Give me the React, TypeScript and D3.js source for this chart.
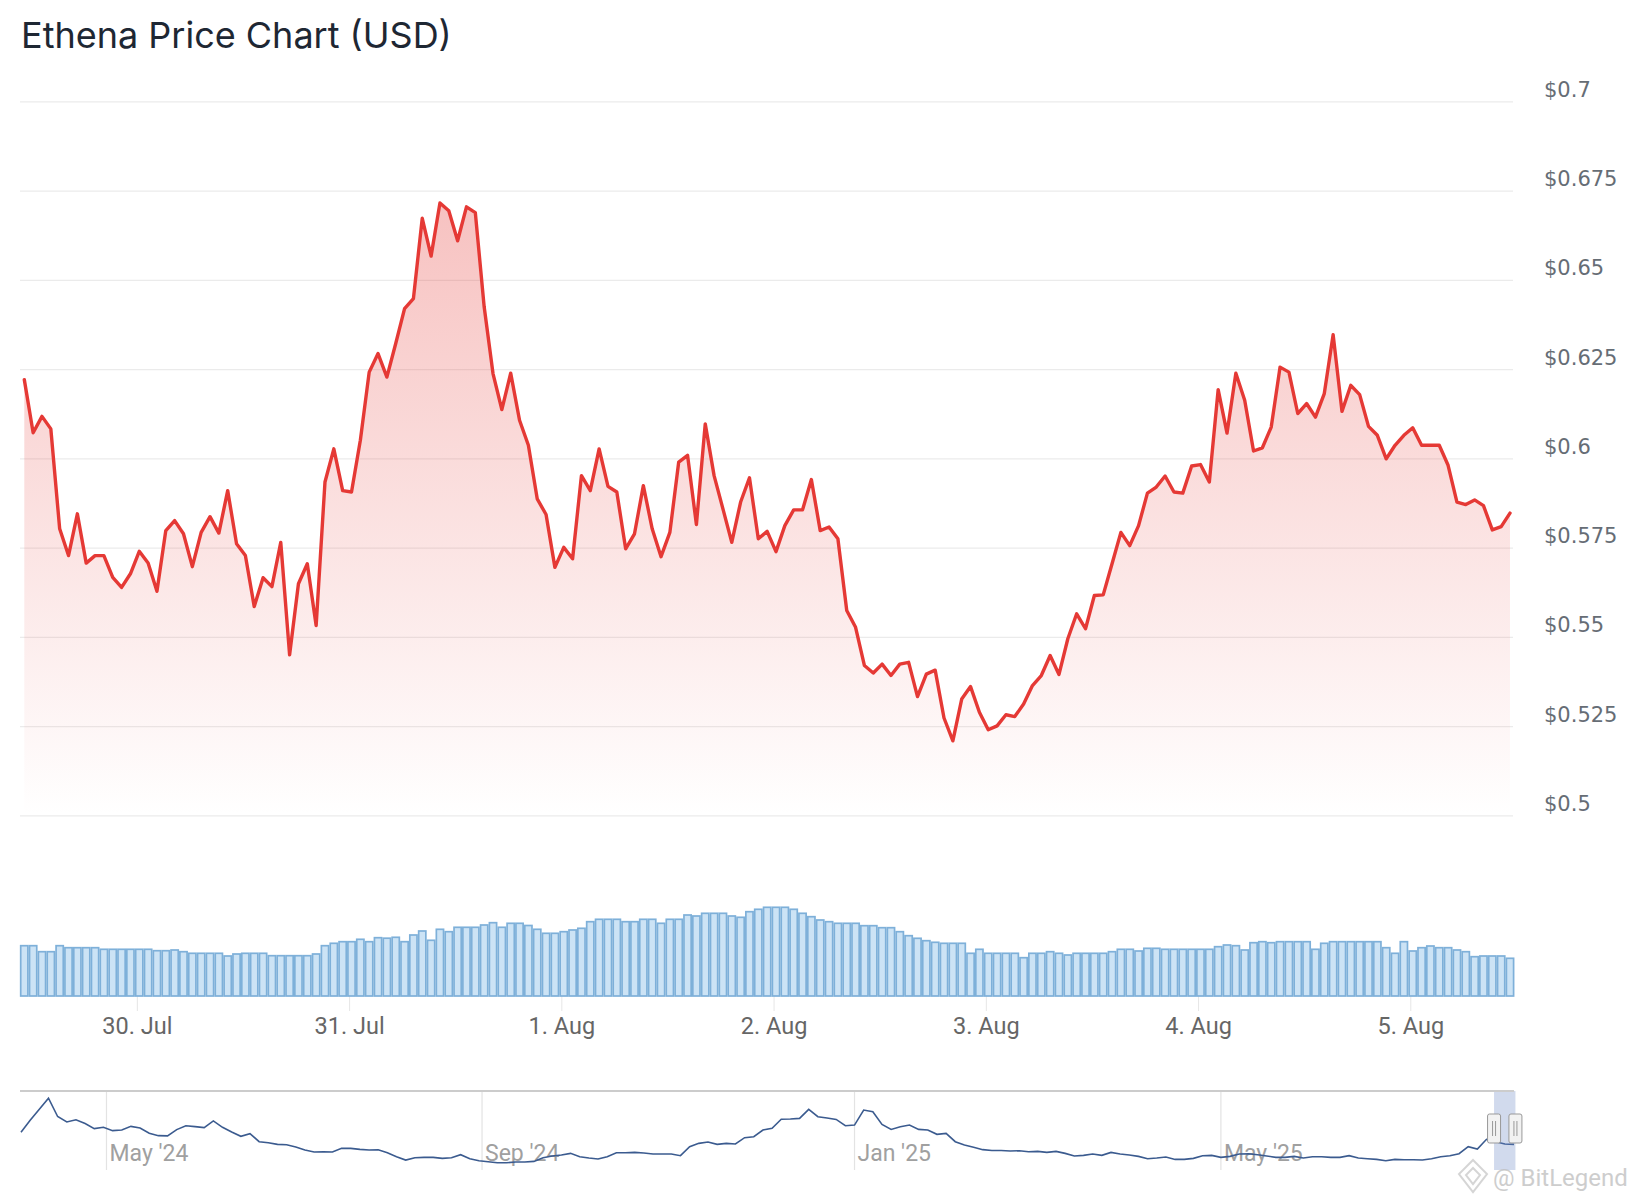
import * as d3 from "d3"

// hourly prices, 29 Jul 11:13 UTC -> 5 Aug 11:13 UTC
const startTime = Date.UTC(2025, 6, 29, 11, 13)
const prices = [
  0.6222, 0.6073, 0.6119, 0.6084, 0.5804, 0.5729, 0.5846, 0.5708, 0.5729, 0.5729,
  0.5668, 0.564, 0.5678, 0.5741, 0.5708, 0.5629, 0.5799, 0.5827, 0.579, 0.5698,
  0.5794, 0.5838, 0.5792, 0.5911, 0.5762, 0.5729, 0.5586, 0.5667, 0.5642, 0.5766,
  0.5451, 0.565, 0.5706, 0.5533, 0.5935, 0.6028, 0.5911, 0.5907, 0.6052, 0.6243,
  0.6295, 0.6229, 0.6323, 0.6421, 0.6449, 0.6674, 0.6568, 0.6717, 0.6695, 0.6611,
  0.6706, 0.669, 0.6426, 0.6239, 0.6138, 0.624, 0.6108, 0.6038, 0.5888, 0.5844,
  0.5696, 0.5752, 0.572, 0.5953, 0.5911, 0.6028, 0.5923, 0.5907, 0.5748, 0.579,
  0.5925, 0.5804, 0.5726, 0.5794, 0.5991, 0.601, 0.5816, 0.6098, 0.5953, 0.586,
  0.5766, 0.5879, 0.5947, 0.5776, 0.5797, 0.574, 0.5813, 0.5857, 0.5857, 0.5942,
  0.5799, 0.5809, 0.5776, 0.5575, 0.5528, 0.5421, 0.54, 0.5425, 0.5393, 0.5425,
  0.543, 0.5334, 0.5397, 0.5408, 0.5274, 0.521, 0.5327, 0.5362, 0.529, 0.5241,
  0.5252, 0.5283, 0.5278, 0.5313, 0.5365, 0.5393, 0.5449, 0.5396, 0.5496, 0.5566,
  0.5524, 0.5617, 0.5619, 0.5706, 0.5794, 0.5757, 0.5813, 0.5904, 0.5921, 0.5952,
  0.5907, 0.5904, 0.598, 0.5984, 0.5935, 0.6194, 0.6072, 0.624, 0.6164, 0.6022,
  0.6031, 0.6089, 0.6257, 0.6243, 0.6127, 0.6155, 0.6117, 0.6183, 0.6348, 0.6133,
  0.6206, 0.618, 0.6091, 0.6066, 0.6, 0.6038, 0.6066, 0.6087, 0.6038, 0.6038,
  0.6038, 0.5982, 0.5879, 0.5872, 0.5885, 0.5869, 0.5801, 0.581, 0.5848,
]

// rolling 24h volume, millions USD
const volumes = [
  503, 503, 443, 443, 503, 483, 483, 483, 483, 467, 467, 467, 467, 467, 467, 453, 453, 460, 443, 427,
  427, 427, 427, 400, 420, 427, 427, 427, 403, 403, 403, 403, 403, 420, 503, 527, 543, 543, 567, 543,
  583, 578, 587, 543, 610, 650, 557, 667, 643, 687, 687, 687, 710, 733, 687, 727, 727, 705, 667, 627,
  627, 643, 660, 677, 743, 767, 767, 767, 743, 743, 767, 767, 727, 767, 767, 810, 800, 827, 827, 827,
  800, 787, 843, 867, 887, 887, 887, 867, 827, 793, 760, 743, 727, 727, 727, 703, 703, 683, 683, 643,
  603, 577, 553, 537, 527, 527, 527, 427, 467, 427, 427, 427, 427, 383, 427, 427, 443, 427, 410, 427,
  427, 427, 427, 443, 467, 467, 450, 477, 477, 467, 467, 467, 467, 467, 467, 493, 510, 503, 460, 533,
  543, 533, 543, 543, 543, 543, 467, 527, 543, 543, 543, 543, 543, 543, 483, 427, 543, 450, 483, 500,
  483, 483, 460, 443, 393, 400, 400, 400, 377,
]

// navigator: full history, one value every 3 days from 3 Apr 2024
const navStart = Date.UTC(2024, 3, 3)
const navPrices = [
  0.807, 1.03, 1.234, 1.44, 1.1, 1.0, 1.04, 0.97, 0.875, 0.9,
  0.838, 0.85, 0.918, 0.888, 0.789, 0.745, 0.74, 0.857, 0.93, 0.913,
  0.894, 1.018, 0.9, 0.813, 0.733, 0.782, 0.633, 0.614, 0.583, 0.577,
  0.534, 0.478, 0.441, 0.447, 0.441, 0.509, 0.509, 0.49, 0.478, 0.484,
  0.428, 0.354, 0.292, 0.335, 0.342, 0.342, 0.323, 0.335, 0.391, 0.317,
  0.28, 0.261, 0.242, 0.242, 0.255, 0.255, 0.267, 0.335, 0.366, 0.385,
  0.416, 0.354, 0.329, 0.311, 0.354, 0.428, 0.428, 0.435, 0.422, 0.404,
  0.404, 0.404, 0.373, 0.54, 0.602, 0.627, 0.583, 0.602, 0.59, 0.707,
  0.726, 0.85, 0.881, 1.05, 1.053, 1.066, 1.233, 1.097, 1.072, 1.047,
  0.93, 0.942, 1.22, 1.19, 0.954, 0.861, 0.91, 0.942, 0.861, 0.85,
  0.77, 0.788, 0.633, 0.571, 0.528, 0.485, 0.47, 0.47, 0.46, 0.465,
  0.447, 0.453, 0.434, 0.453, 0.416, 0.366, 0.379, 0.404, 0.379, 0.434,
  0.404, 0.385, 0.36, 0.317, 0.329, 0.348, 0.304, 0.304, 0.323, 0.373,
  0.379, 0.342, 0.36, 0.404, 0.41, 0.391, 0.366, 0.342, 0.342, 0.36,
  0.329, 0.354, 0.354, 0.342, 0.342, 0.373, 0.329, 0.317, 0.304, 0.28,
  0.304, 0.298, 0.298, 0.292, 0.317, 0.354, 0.373, 0.41, 0.54, 0.497,
  0.677, 0.633, 0.59, 0.583,
]

const priceTicks = [0.5, 0.525, 0.55, 0.575, 0.6, 0.625, 0.65, 0.675, 0.7]

const W = 1644
const H = 1200

export default function App() {
  const HOUR = 3600 * 1000
  const DAY = 24 * HOUR
  const times = prices.map((_, i) => new Date(startTime + i * HOUR))
  const navDates = navPrices.map((_, k) => new Date(navStart + k * 3 * DAY))

  const x = d3.scaleUtc().domain([times[0], times[times.length - 1]]).range([24.3, 1510])
  const y = d3.scaleLinear().domain([0.5, 0.7]).range([815.8, 101.9])
  const yVol = d3.scaleLinear().domain([0, 1000]).range([996, 896])
  const xNav = d3
    .scaleUtc()
    .domain([navDates[0], navDates[navDates.length - 1]])
    .range([21, 1514])
  const yNav = d3.scaleLinear().domain([0.2, 1.5]).range([1165, 1095])

  const line = d3
    .line<number>()
    .x((_, i) => x(times[i]))
    .y(d => y(d))
  const area = d3
    .area<number>()
    .x((_, i) => x(times[i]))
    .y0(y(0.5))
    .y1(d => y(d))
  const navLine = d3
    .line<number>()
    .x((_, k) => xNav(navDates[k]))
    .y(d => yNav(d))

  const dayTicks = d3.utcDay.range(times[0], times[times.length - 1])
  const dayFmt = d3.utcFormat("%-d. %b")
  const navTicks = d3.utcMonth.every(4)!.range(navDates[0], navDates[navDates.length - 1])
  const navFmt = d3.utcFormat("%b '%y")

  const barW = 7.2
  const maskX0 = xNav(times[0])
  const maskX1 = xNav(times[times.length - 1])

  return (
    <svg
      width={W}
      height={H}
      viewBox={`0 0 ${W} ${H}`}
      style={{ position: "absolute", left: 0, top: 0, background: "#fff" }}
    >
      <defs>
        <linearGradient id="priceFill" gradientUnits="userSpaceOnUse" x1="0" y1={y(0.7)} x2="0" y2={y(0.5)}>
          <stop offset="0%" stopColor="#e53935" stopOpacity={0.36} />
          <stop offset="100%" stopColor="#e53935" stopOpacity={0.0} />
        </linearGradient>
      </defs>

      <text x={21} y={48} fontFamily="Inter" fontSize={36} fill="#1e2733">
        Ethena Price Chart (USD)
      </text>

      {/* price grid + labels */}
      {priceTicks.map(t => (
        <g key={t}>
          <line x1={20} x2={1513} y1={y(t)} y2={y(t)} stroke="#ebebeb" strokeWidth={1.2} />
          <text x={1544} y={y(t) - 5} fontFamily="DejaVu Sans" fontSize={21} fill="#666d75">
            {`$${t}`}
          </text>
        </g>
      ))}

      <path d={area(prices) ?? ""} fill="url(#priceFill)" />
      <path
        d={line(prices) ?? ""}
        fill="none"
        stroke="#e53935"
        strokeWidth={3.4}
        strokeLinejoin="round"
        strokeLinecap="round"
      />

      {/* day ticks */}
      {dayTicks.map(d => (
        <g key={d.getTime()}>
          <line x1={x(d)} x2={x(d)} y1={996} y2={1011} stroke="#e6e6e6" strokeWidth={1} />
          <text
            x={x(d)}
            y={1034}
            textAnchor="middle"
            fontFamily="Roboto"
            fontSize={23.5}
            fill="#666666"
          >
            {dayFmt(d)}
          </text>
        </g>
      ))}

      {/* volume bars */}
      {volumes.map((v, i) => (
        <rect
          key={i}
          x={x(times[i]) - barW / 2}
          y={yVol(v)}
          width={barW}
          height={yVol(0) - yVol(v)}
          fill="#cce3f5"
          stroke="#7eb0d9"
          strokeWidth={1.7}
        />
      ))}

      {/* navigator */}
      {navTicks.map(d => (
        <g key={d.getTime()}>
          <line x1={xNav(d)} x2={xNav(d)} y1={1091} y2={1170} stroke="#e3e3e3" strokeWidth={1.2} />
          <text x={xNav(d) + 3} y={1161} fontFamily="Roboto" fontSize={23} fill="#a0a0a0">
            {navFmt(d)}
          </text>
        </g>
      ))}
      <path d={navLine(navPrices) ?? ""} fill="none" stroke="#3b5b8f" strokeWidth={1.6} />
      <rect x={maskX0} y={1091} width={maskX1 - maskX0} height={79} fill="rgba(102,133,194,0.3)" />
      <line x1={20} x2={1514} y1={1091} y2={1091} stroke="#cccccc" strokeWidth={2} />
      {[maskX0, maskX1].map((hx, j) => (
        <g key={j}>
          <rect x={hx - 6.5} y={1114} width={13} height={29} rx={2} fill="#f2f2f2" stroke="#999" strokeWidth={1} />
          <line x1={hx - 1.5} x2={hx - 1.5} y1={1121} y2={1136} stroke="#999" strokeWidth={1} />
          <line x1={hx + 1.5} x2={hx + 1.5} y1={1121} y2={1136} stroke="#999" strokeWidth={1} />
        </g>
      ))}

      {/* watermark */}
      <g opacity={0.75}>
        <path
          d="M1473,1160 L1487,1174 L1473,1192 L1459,1174 Z M1473,1168 L1480,1175 L1473,1184 L1466,1175 Z"
          fill="none"
          stroke="#c8c8c8"
          strokeWidth={2}
        />
        <text x={1493} y={1186} fontFamily="Roboto" fontSize={24} fill="#bdbdbd">
          @ BitLegend
        </text>
      </g>
    </svg>
  )
}
